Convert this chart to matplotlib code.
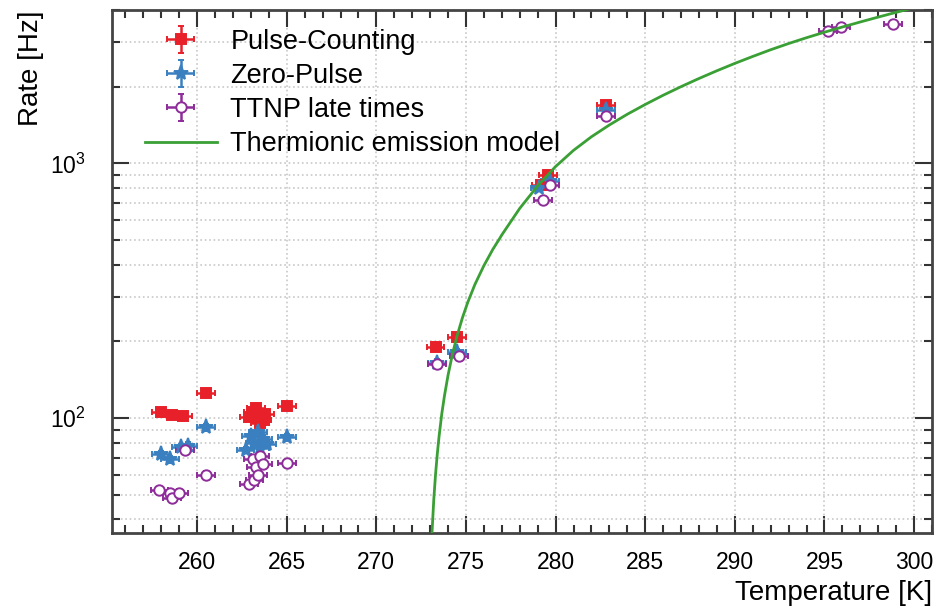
import matplotlib
matplotlib.use('Agg')
import matplotlib.pyplot as plt
from matplotlib.ticker import MultipleLocator, LogLocator, NullFormatter


# Pulse-Counting
pc_temp = [258.0, 258.6, 259.2, 260.5, 262.9, 263.1, 263.3, 263.4, 263.6, 263.8, 263.5, 265.0,
           273.3, 274.5, 279.2, 279.6, 282.8]
pc_rate = [106, 103, 102, 125, 101, 106, 110, 103, 98, 104, 96, 112,
           191, 209, 820, 897, 1690]

# Zero-Pulse
zp_temp = [258.0, 258.5, 259.1, 259.5, 260.5, 262.7, 263.0, 263.2, 263.4, 263.5, 263.7, 263.9, 265.0,
           273.4, 274.5, 279.1, 279.7, 282.8]
zp_rate = [72, 69, 77, 78, 92, 75, 85, 80, 88, 76, 83, 79, 84,
           165, 182, 801, 850, 1620]

# TTNP late times
tt_temp = [257.9, 258.5, 258.6, 259.0, 259.3, 260.5, 262.9, 263.1, 263.2, 263.3, 263.4, 263.5, 263.7, 265.0,
           273.4, 274.6, 279.3, 279.7, 282.8, 295.2, 295.9, 298.8]
tt_rate = [52, 51, 48.5, 51, 75, 60, 55, 69, 57, 64, 60, 71, 66, 66.5,
           163, 175, 716, 820, 1530, 3320, 3430, 3530]

# thermionic emission model
model_temp = [273.1, 273.2, 273.3, 273.4, 273.5, 273.65, 273.8, 274.0, 274.25, 274.5, 274.8, 275.1,
              275.5, 276.0, 276.5, 276.9, 277.0, 278.0, 279.0, 280.0, 281.0, 282.0, 283.0,
              284.0, 285.0, 286.0, 287.0, 288.0, 289.0, 290.0, 291.0, 292.0, 293.0, 294.0,
              295.0, 296.0, 297.0, 298.0, 299.0, 299.8]
model_rate = [35, 47.5, 60, 72.5, 85, 104, 122.5, 147.5, 179, 210, 247.5, 285,
              335, 397, 460, 510, 524, 666, 816, 972, 1125, 1272, 1415,
              1559, 1703, 1851, 2001, 2154, 2310, 2469, 2629, 2793, 2954, 3114,
              3272, 3430, 3590, 3752, 3917, 4050]

T_ERR = 0.5
REL_ERR = 0.03


def draw_series(ax, temp, rate, color, marker, label, open_marker=False):
    yerr = [r * REL_ERR for r in rate]
    face = 'white' if open_marker else color
    h = ax.errorbar(temp, rate, xerr=T_ERR, yerr=yerr, fmt=marker, color=color,
                    mfc=face, mec=color, ms=7.5 if marker != '*' else 11, mew=1.4,
                    elinewidth=1.8, capsize=2.5, capthick=1.5, label=label, zorder=3)
    return h


def main():
    plt.rcParams['font.family'] = ['Liberation Sans', 'DejaVu Sans']

    fig = plt.figure(figsize=(9.41, 6.09), dpi=100)
    ax = fig.add_axes([112 / 941, 76 / 609, 820 / 941, 523 / 609])

    h1 = draw_series(ax, pc_temp, pc_rate, '#e8202a', 's', 'Pulse-Counting')
    h2 = draw_series(ax, zp_temp, zp_rate, '#3a80c0', '*', 'Zero-Pulse')
    h3 = draw_series(ax, tt_temp, tt_rate, '#8e2c9a', 'o', 'TTNP late times', open_marker=True)
    h4, = ax.plot(model_temp, model_rate, color='#3aa035', lw=2, label='Thermionic emission model',
                  zorder=4)

    ax.set_yscale('log')
    ax.set_xlim(255.25, 301)
    ax.set_ylim(35.4, 4000)

    ax.xaxis.set_major_locator(MultipleLocator(5))
    ax.xaxis.set_minor_locator(MultipleLocator(1))
    ax.yaxis.set_major_locator(LogLocator(base=10))
    ax.yaxis.set_minor_locator(LogLocator(base=10, subs=range(2, 10)))
    ax.yaxis.set_minor_formatter(NullFormatter())

    ax.tick_params(which='both', direction='in', top=True, right=True, color='#333333',
                   labelsize=16.5, width=1.5)
    ax.tick_params(which='major', length=12)
    ax.tick_params(which='minor', length=6)
    ax.tick_params(axis='x', pad=13)
    ax.tick_params(axis='y', pad=19)

    ax.grid(True, axis='x', which='major', color='#c8c8c8', linestyle=':', lw=1.2)
    ax.grid(True, axis='y', which='both', color='#c8c8c8', linestyle=':', lw=1.2)
    ax.set_axisbelow(True)

    for s in ax.spines.values():
        s.set_linewidth(2)
        s.set_color('#444444')

    ax.set_xlabel('Temperature [K]', fontsize=20, loc='right', labelpad=4)
    ax.set_ylabel('Rate [Hz]', fontsize=20, loc='top', labelpad=4)

    ax.legend([h1, h2, h3, h4], ['Pulse-Counting', 'Zero-Pulse', 'TTNP late times',
                                 'Thermionic emission model'],
              loc='upper left', bbox_to_anchor=(0.027, 0.985), frameon=False,
              fontsize=19.5, handlelength=2.65, labelspacing=0.3, handletextpad=0.5,
              borderaxespad=0)

    fig.savefig('out.png', dpi=100)


if __name__ == '__main__':
    main()
